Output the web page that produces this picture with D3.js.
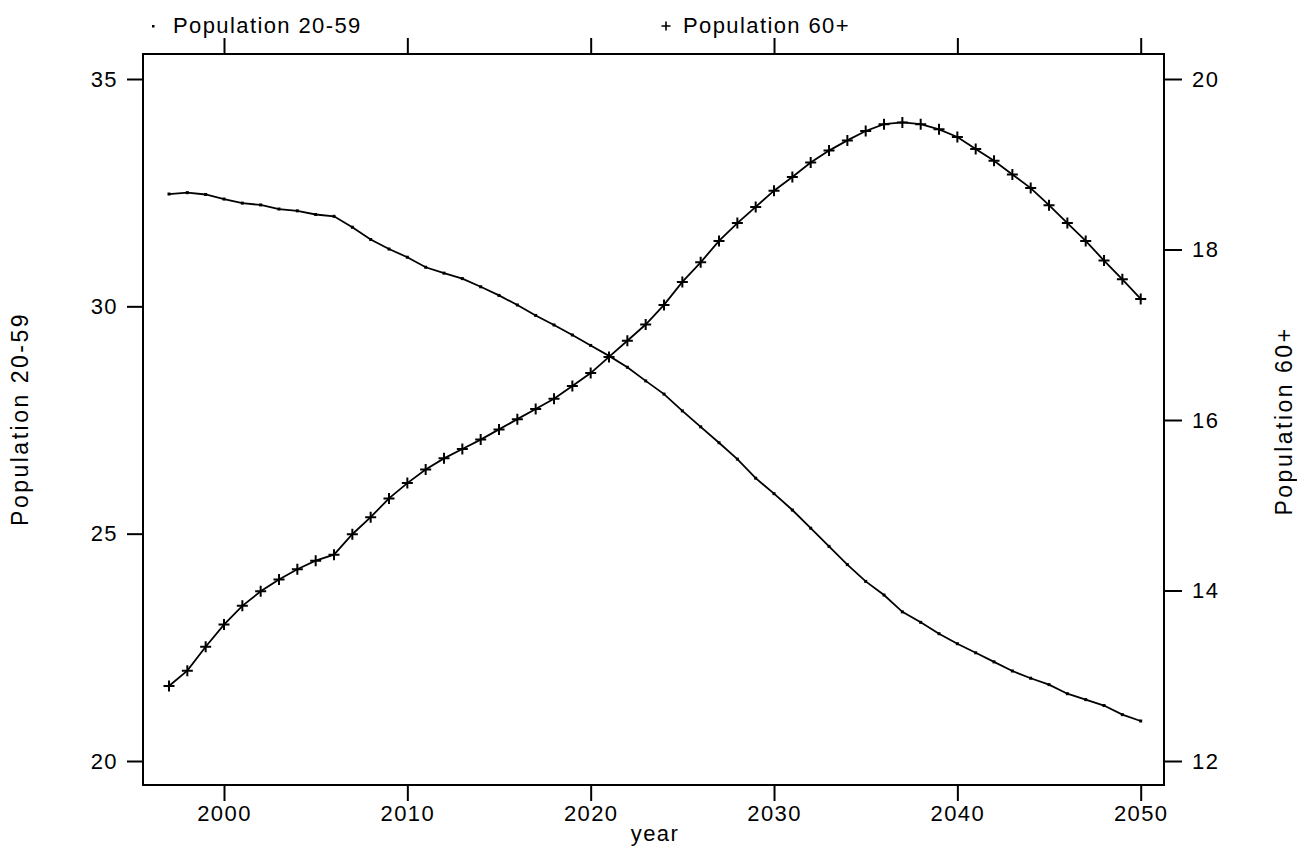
<!DOCTYPE html>
<html>
<head>
<meta charset="utf-8">
<script src="https://cdn.jsdelivr.net/npm/d3@7"></script>
<style>
  body { margin: 0; background: #fff; }
  text { font-family: "Liberation Sans", Arial, sans-serif; fill: #000; }
</style>
</head>
<body>
<div id="chart-area"></div>
<script>
// data
const years = [
  1997, 1998, 1999, 2000, 2001, 2002, 2003, 2004, 2005, 2006,
  2007, 2008, 2009, 2010, 2011, 2012, 2013, 2014, 2015, 2016,
  2017, 2018, 2019, 2020, 2021, 2022, 2023, 2024, 2025, 2026,
  2027, 2028, 2029, 2030, 2031, 2032, 2033, 2034, 2035, 2036,
  2037, 2038, 2039, 2040, 2041, 2042, 2043, 2044, 2045, 2046,
  2047, 2048, 2049, 2050
]
const pop2059 = [
  32.47, 32.50, 32.46, 32.36, 32.27, 32.23, 32.14, 32.10, 32.02, 31.98,
  31.74, 31.47, 31.26, 31.08, 30.86, 30.73, 30.61, 30.43, 30.24, 30.03,
  29.80, 29.59, 29.37, 29.14, 28.91, 28.66, 28.36, 28.07, 27.70, 27.35,
  27.00, 26.64, 26.22, 25.88, 25.52, 25.12, 24.72, 24.32, 23.95, 23.65,
  23.28, 23.05, 22.80, 22.58, 22.38, 22.18, 21.98, 21.82, 21.68, 21.48,
  21.35, 21.22, 21.02, 20.88
]
const pop60 = [
  12.88, 13.06, 13.34, 13.60, 13.82, 13.99, 14.13, 14.25, 14.35, 14.42,
  14.66, 14.86, 15.08, 15.26, 15.42, 15.55, 15.66, 15.77, 15.89, 16.01,
  16.13, 16.25, 16.40, 16.55, 16.74, 16.93, 17.12, 17.35, 17.62, 17.85,
  18.10, 18.31, 18.50, 18.69, 18.85, 19.02, 19.16, 19.28, 19.39, 19.47,
  19.49, 19.47, 19.41, 19.32, 19.18, 19.04, 18.88, 18.72, 18.52, 18.31,
  18.10, 17.87, 17.65, 17.42
]
const xTicks = [2000, 2010, 2020, 2030, 2040, 2050]
const yLeftTicks = [20, 25, 30, 35]
const yRightTicks = [12, 14, 16, 18, 20]

const W = 1297, H = 847
// plot frame
const FRAME = { LEFT: 143, RIGHT: 1164, TOP: 54, BOTTOM: 785 }
const FONT = "22px"
const LS = "1.4px"

const svg = d3.select("#chart-area").append("svg")
  .attr("width", W)
  .attr("height", H)

// scales
const x = d3.scaleLinear().domain([2000, 2050]).range([224, 1140.7])
const yL = d3.scaleLinear().domain([20, 35]).range([761, 79])
const yR = d3.scaleLinear().domain([12, 20]).range([761, 79])

// frame
svg.append("rect")
  .attr("x", FRAME.LEFT)
  .attr("y", FRAME.TOP)
  .attr("width", FRAME.RIGHT - FRAME.LEFT)
  .attr("height", FRAME.BOTTOM - FRAME.TOP)
  .attr("fill", "none")
  .attr("stroke", "#000")
  .attr("stroke-width", 2)

function styleAxis(sel) {
  sel.select(".domain").remove()
  sel.selectAll(".tick line").attr("stroke", "#000").attr("stroke-width", 2)
  sel.selectAll(".tick text")
    .attr("font-size", FONT)
    .attr("letter-spacing", LS)
    .attr("font-family", "Liberation Sans, Arial, sans-serif")
    .attr("fill", "#000")
}

// bottom axis
svg.append("g")
  .attr("transform", `translate(0, ${FRAME.BOTTOM})`)
  .call(d3.axisBottom(x).tickValues(xTicks).tickFormat(d3.format("d"))
    .tickSize(16).tickPadding(4))
  .call(styleAxis)

// top axis (ticks only)
svg.append("g")
  .attr("transform", `translate(0, ${FRAME.TOP})`)
  .call(d3.axisTop(x).tickValues(xTicks).tickFormat("").tickSize(16))
  .call(styleAxis)

// left axis
svg.append("g")
  .attr("transform", `translate(${FRAME.LEFT}, 0)`)
  .call(d3.axisLeft(yL).tickValues(yLeftTicks).tickSize(16).tickPadding(9))
  .call(styleAxis)

// right axis
svg.append("g")
  .attr("transform", `translate(${FRAME.RIGHT}, 0)`)
  .call(d3.axisRight(yR).tickValues(yRightTicks).tickSize(18).tickPadding(10))
  .call(styleAxis)

// axis titles
svg.append("text")
  .attr("x", 655)
  .attr("y", 841)
  .attr("font-size", FONT)
  .attr("letter-spacing", LS)
  .attr("text-anchor", "middle")
  .text("year")

svg.append("text")
  .attr("transform", "translate(28, 419) rotate(-90)")
  .attr("font-size", "23px")
  .attr("letter-spacing", "2.5px")
  .attr("text-anchor", "middle")
  .text("Population 20-59")

svg.append("text")
  .attr("transform", "translate(1292, 421) rotate(-90)")
  .attr("font-size", "23px")
  .attr("letter-spacing", "2.5px")
  .attr("text-anchor", "middle")
  .text("Population 60+")

// lines
const lineL = d3.line().x((d, i) => x(years[i])).y(d => yL(d))
const lineR = d3.line().x((d, i) => x(years[i])).y(d => yR(d))

svg.append("path")
  .datum(pop2059)
  .attr("d", lineL)
  .attr("fill", "none")
  .attr("stroke", "#000")
  .attr("stroke-width", 1.8)

svg.append("path")
  .datum(pop60)
  .attr("d", lineR)
  .attr("fill", "none")
  .attr("stroke", "#000")
  .attr("stroke-width", 1.8)

// markers
const plus = s => `M${-s},0H${s}M0,${-s}V${s}`

svg.append("g").selectAll("rect")
  .data(pop2059)
  .join("rect")
  .attr("x", (d, i) => x(years[i]) - 1.5)
  .attr("y", d => yL(d) - 1.5)
  .attr("width", 3)
  .attr("height", 3)
  .attr("fill", "#000")

svg.append("g").selectAll("path")
  .data(pop60)
  .join("path")
  .attr("transform", (d, i) => `translate(${x(years[i])}, ${yR(d)})`)
  .attr("d", plus(5.5))
  .attr("stroke", "#000")
  .attr("stroke-width", 2)

// legend
svg.append("rect")
  .attr("x", 152).attr("y", 25).attr("width", 2.5).attr("height", 2.5)
  .attr("fill", "#000")
svg.append("text")
  .attr("x", 173).attr("y", 33)
  .attr("font-size", FONT)
  .attr("letter-spacing", LS)
  .text("Population 20-59")

svg.append("path")
  .attr("transform", "translate(666, 26)")
  .attr("d", plus(4.5))
  .attr("stroke", "#000")
  .attr("stroke-width", 1.6)
svg.append("text")
  .attr("x", 683).attr("y", 33)
  .attr("font-size", FONT)
  .attr("letter-spacing", LS)
  .text("Population 60+")
</script>
</body>
</html>
